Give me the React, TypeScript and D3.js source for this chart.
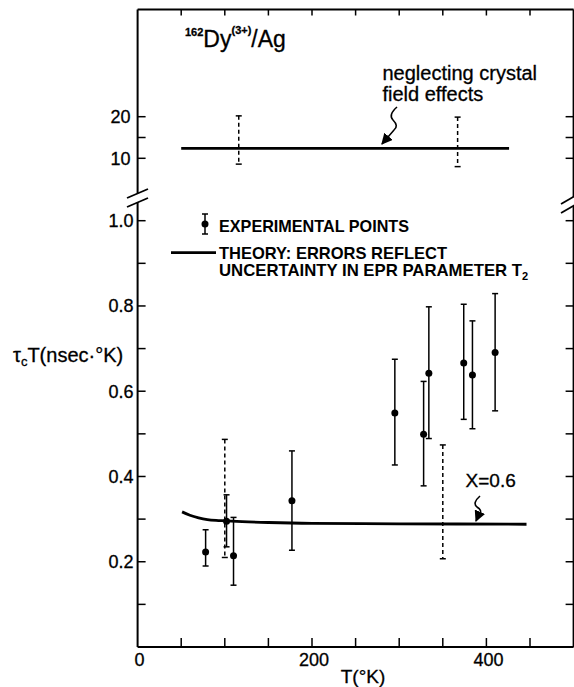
import React from "react";
import * as d3 from "d3";

// experimental points (lower panel)
const expT = [78, 102, 110, 177, 295, 328, 334, 374, 384, 410];
const expVal = [0.223, 0.295, 0.214, 0.343, 0.549, 0.499, 0.642, 0.666, 0.638, 0.691];
const expHi = [0.275, 0.357, 0.304, 0.46, 0.675, 0.623, 0.798, 0.804, 0.765, 0.829];
const expLo = [0.19, 0.235, 0.145, 0.227, 0.427, 0.378, 0.489, 0.534, 0.512, 0.554];

// theory, x = 0.6
const theoryT = [51, 60, 70, 80, 90, 100, 120, 150, 200, 300, 446];
const theoryV = [0.317, 0.309, 0.303, 0.299, 0.297, 0.296, 0.294, 0.292, 0.29, 0.289, 0.288];
const theoryErrT = [100, 350];
const theoryErrHi = [0.487, 0.474];
const theoryErrLo = [0.21, 0.207];

// theory neglecting crystal field effects (upper panel)
const topT = [50, 426];
const topV = [12.4, 12.4];
const topErrT = [116, 367];
const topErrHi = [20.2, 19.9];
const topErrLo = [8.6, 8.0];

const xTicks = [0, 50, 100, 150, 200, 250, 300, 350, 400, 450, 500];
const xLabels = [0, 200, 400];
const yLowTicks = [0.1, 0.2, 0.3, 0.4, 0.5, 0.6, 0.7, 0.8, 0.9, 1.0];
const yLowLabels = [0.2, 0.4, 0.6, 0.8, 1.0];
const yTopTicks = [10, 15, 20];
const yTopLabels = [10, 20];

const FONT = "'Liberation Sans', Arial, sans-serif";

export default function App() {
  const x = d3.scaleLinear().domain([0, 500]).range([137.6, 573.6]);
  const yLow = d3.scaleLinear().domain([0, 1]).range([647, 220.7]);
  const yTop = d3.scaleLinear().domain([10, 20]).range([158.3, 116.7]);

  const left = x(0), right = x(500), top = 9.5, bottom = yLow(0);

  const theoryPath = d3.line<number>()
    .x((d, i) => x(theoryT[i]))
    .y(d => yLow(d))
    .curve(d3.curveMonotoneX)(theoryV);
  const topPath = d3.line<number>()
    .x((d, i) => x(topT[i]))
    .y(d => yTop(d))(topV);

  const errBar = (xp: number, y1: number, y2: number, dashed: boolean, key: string) => (
    <g key={key} stroke="#000" strokeWidth={1.5}>
      <line x1={xp} x2={xp} y1={y1} y2={y2} strokeDasharray={dashed ? "4,3" : undefined} />
      <line x1={xp - 3} x2={xp + 3} y1={y1} y2={y1} />
      <line x1={xp - 3} x2={xp + 3} y1={y2} y2={y2} />
    </g>
  );

  return (
    <svg width={574} height={687} style={{ position: "absolute", left: 0, top: 0, background: "#fff" }}
      fontFamily={FONT}>
      <defs>
        <marker id="arr" viewBox="0 0 10 10" refX={9} refY={5} markerWidth={7} markerHeight={7} orient="auto">
          <path d="M0,0 L10,5 L0,10 z" fill="#000" />
        </marker>
      </defs>

      {/* frame */}
      <g stroke="#000" strokeWidth={2} fill="none">
        <line x1={left} x2={right} y1={top} y2={top} />
        <line x1={left} x2={right} y1={bottom} y2={bottom} />
        <line x1={left} x2={left} y1={top} y2={193} />
        <line x1={left} x2={left} y1={202} y2={bottom} />
        <line x1={right} x2={right} y1={top} y2={197} />
        <line x1={right} x2={right} y1={206} y2={bottom} />
        {/* axis breaks */}
        <line x1={127} x2={148} y1={198} y2={189} strokeWidth={1.8} />
        <line x1={127} x2={148} y1={207} y2={198} strokeWidth={1.8} />
        <line x1={561} x2={575} y1={204} y2={196} strokeWidth={1.8} />
        <line x1={561} x2={575} y1={213} y2={205} strokeWidth={1.8} />
      </g>

      {/* ticks, all pointing inward */}
      <g stroke="#000" strokeWidth={1.5}>
        {xTicks.slice(1, -1).map(t => (
          <g key={t}>
            <line x1={x(t)} x2={x(t)} y1={bottom} y2={bottom - 9} />
            <line x1={x(t)} x2={x(t)} y1={top} y2={top + 6} />
          </g>
        ))}
        {yLowTicks.map(t => (
          <g key={t}>
            <line x1={left} x2={left + 8} y1={yLow(t)} y2={yLow(t)} />
            <line x1={right} x2={right - 8} y1={yLow(t)} y2={yLow(t)} />
          </g>
        ))}
        {yTopTicks.map(t => (
          <g key={t}>
            <line x1={left} x2={left + 8} y1={yTop(t)} y2={yTop(t)} />
            <line x1={right} x2={right - 8} y1={yTop(t)} y2={yTop(t)} />
          </g>
        ))}
      </g>

      {/* tick labels */}
      <g fontSize={18} fill="#000" stroke="#000" strokeWidth={0.3}>
        {xLabels.map(t => (
          <text key={t} x={x(t) + 2} y={666} textAnchor="middle">{t}</text>
        ))}
        {yLowLabels.map(t => (
          <text key={t} x={left - 4} y={yLow(t) + 6.5} textAnchor="end">{t.toFixed(1)}</text>
        ))}
        {yTopLabels.map(t => (
          <text key={t} x={left - 7} y={yTop(t) + 6.5} textAnchor="end">{t}</text>
        ))}
      </g>

      <g stroke="#000" strokeWidth={0.3}>
        {/* axis titles */}
        <text x={363} y={683} fontSize={19} textAnchor="middle">T(°K)</text>
        <text x={13} y={362} fontSize={20}>
          τ<tspan fontSize={13} dy={4}>c</tspan><tspan dy={-4}>T(nsec·°K)</tspan>
        </text>

        {/* title */}
        <text x={185} y={47} fill="#000">
          <tspan fontSize={11} fontWeight="bold" dy={-11}>162</tspan>
          <tspan fontSize={23} dy={11}>Dy</tspan>
          <tspan fontSize={11} fontWeight="bold" dy={-13}>(3+)</tspan>
          <tspan fontSize={23} dy={13}>/Ag</tspan>
        </text>

        <text x={382.5} y={80} fontSize={20}>neglecting crystal</text>
        <text x={382.5} y={101} fontSize={20}>field effects</text>
        <text x={465.6} y={487} fontSize={19}>X=0.6</text>
      </g>

      {/* upper panel */}
      <path d={topPath ?? ""} fill="none" stroke="#000" strokeWidth={2.8} />
      {topErrT.map((t, i) => errBar(x(t), yTop(topErrHi[i]), yTop(topErrLo[i]), true, "te" + i))}
      <path d="M397,107 Q388,115 393,120 Q399,126 394,130 L382,144" fill="none" stroke="#000"
        strokeWidth={1.6} markerEnd="url(#arr)" />

      {/* legend */}
      {errBar(205, 214, 234, false, "leg")}
      <circle cx={205} cy={224} r={3.5} fill="#000" />
      <text x={219} y={231.7} fontSize={17} fontWeight="bold" textLength={190} lengthAdjust="spacingAndGlyphs">
        EXPERIMENTAL POINTS
      </text>
      <line x1={171} x2={216} y1={252.7} y2={252.7} stroke="#000" strokeWidth={2.8} />
      <text x={219} y={259.3} fontSize={17} fontWeight="bold" textLength={228} lengthAdjust="spacingAndGlyphs">
        THEORY: ERRORS REFLECT
      </text>
      <text x={219} y={276} fontSize={17} fontWeight="bold">
        <tspan textLength={303} lengthAdjust="spacingAndGlyphs">UNCERTAINTY IN EPR PARAMETER T</tspan>
        <tspan fontSize={11} dy={4}>2</tspan>
      </text>

      {/* lower panel theory */}
      <path d={theoryPath ?? ""} fill="none" stroke="#000" strokeWidth={2.8} />
      {theoryErrT.map((t, i) => errBar(x(t), yLow(theoryErrHi[i]), yLow(theoryErrLo[i]), true, "le" + i))}

      {/* experimental points */}
      {expT.map((t, i) => errBar(x(t), yLow(expHi[i]), yLow(expLo[i]), false, "e" + i))}
      {expT.map((t, i) => (
        <circle key={"p" + i} cx={x(t)} cy={yLow(expVal[i])} r={3.5} fill="#000" />
      ))}

      <path d="M480,496 Q472,503 477,507 Q483,511 479,514 L476,521" fill="none" stroke="#000"
        strokeWidth={1.6} markerEnd="url(#arr)" />
    </svg>
  );
}
